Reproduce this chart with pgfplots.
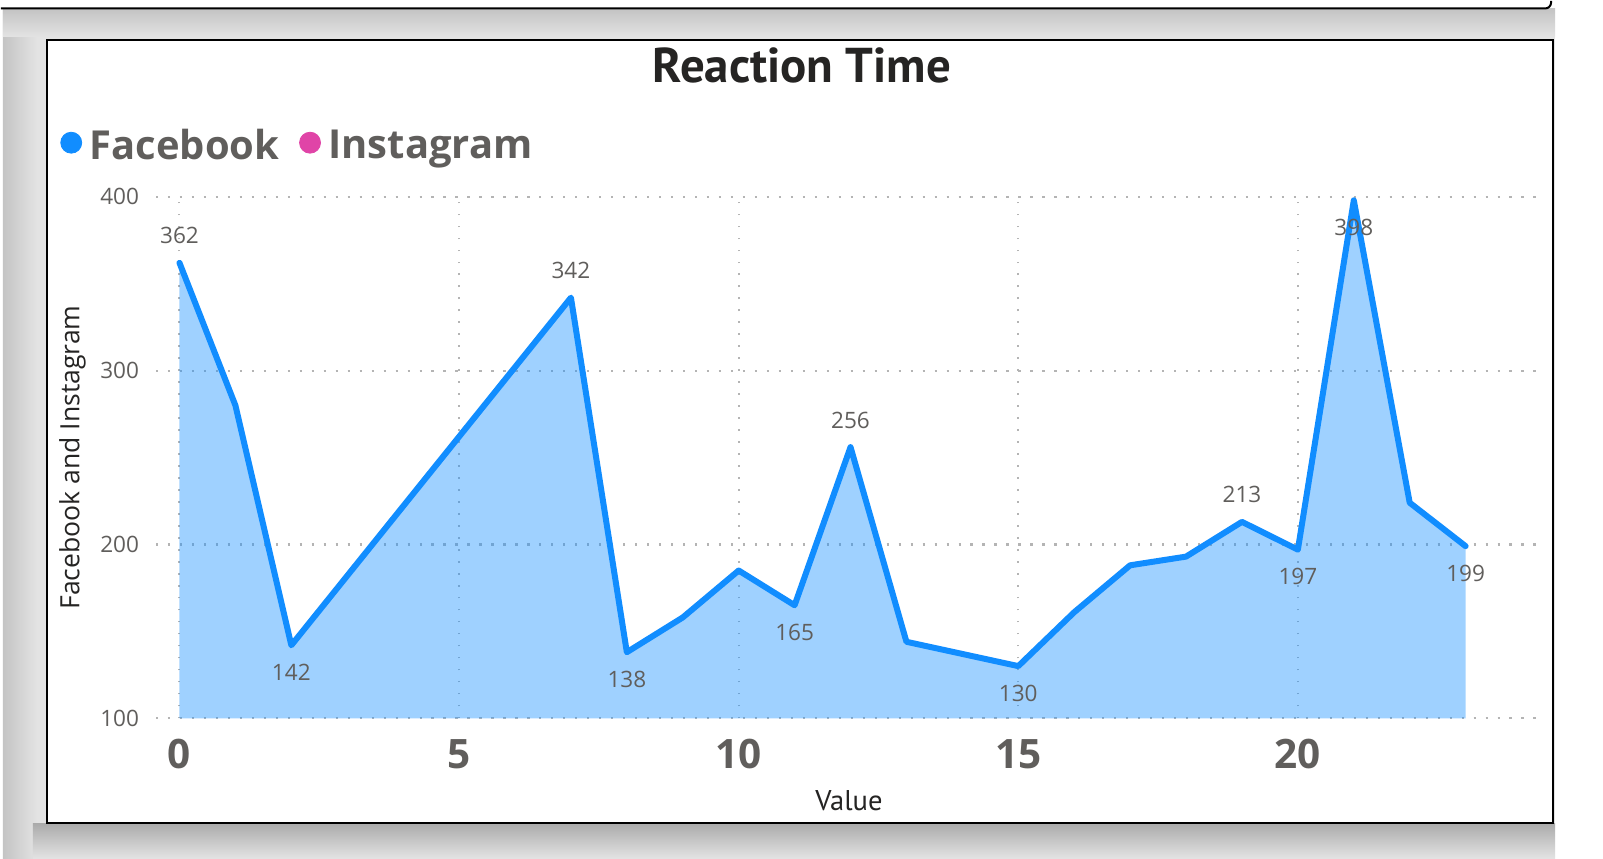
\documentclass[border=0pt]{standalone}
\usepackage{pgfplots}
\pgfplotsset{compat=1.18}
\usepackage{pgfplotstable}
\usepackage{fontspec}
\setmainfont{Open Sans}
\newfontfamily\ptsans{PT Sans}
\definecolor{fbblue}{HTML}{118DFF}
\definecolor{igpink}{HTML}{E044A7}
\definecolor{textgray}{HTML}{605E5C}
\definecolor{titlecol}{HTML}{252423}
\definecolor{gridgray}{HTML}{B4B4B4}
\definecolor{bggray}{HTML}{E3E3E3}
\definecolor{shadowdark}{HTML}{ABABAB}
\definecolor{shadowleft}{HTML}{C4C4C4}

\pgfplotstableread{
x y
0 362
1 280
2 142
3 182
4 222
5 262
6 302
7 342
8 138
9 158
10 185
11 165
12 256
13 144
14 137
15 130
16 161
17 188
18 193
19 213
20 197
21 398
22 224
23 199
}\rtdata

\pgfplotstableread{
x y
0 362
7 342
12 256
19 213
}\labelsabove

\pgfplotstableread{
x y
2 142
8 138
11 165
15 130
20 197
21 398
23 199
}\labelsbelow

\begin{document}
\begin{tikzpicture}
\begin{scope}[x=0.5pt,y=-0.5pt]
  \fill[white] (0,0) rectangle (1603,857);
  \fill[bggray] (0,6) rectangle (1555,857);
  \shade[left color=shadowleft, right color=bggray] (0,6) rectangle (34,857);
  \shade[top color=shadowleft, bottom color=bggray] (0,6) rectangle (1555,34);
  \shade[top color=shadowdark, bottom color=bggray] (30,822) rectangle (1555,857);
  \draw[line width=1pt, rounded corners=3pt] (-2,5.5) -- (1551,5.5) -- (1551,-2);
  \filldraw[fill=white, draw=black, line width=1pt] (44,37) rectangle (1553,822);
\end{scope}
\begin{axis}[
  at={(76.65pt,-358.3pt)}, anchor=south west,
  scale only axis, width=692.45pt, height=261.2pt,
  xmin=-0.42, xmax=24.3, ymin=100, ymax=400,
  xtick={0,5,10,15,20}, ytick={100,200,300,400},
  axis line style={draw=none}, major tick length=0pt,
  grid=major,
  x grid style={gridgray, line width=1pt, dash pattern=on 0.8pt off 5.2pt},
  y grid style={gridgray, line width=1.1pt, dash pattern=on 1.1pt off 4.9pt},
  /pgf/number format/assume math mode=true,
  xticklabel style={font=\bfseries\fontsize{20.3}{24}\selectfont, text=textgray, inner sep=0pt, anchor=center, yshift=-18pt},
  yticklabel style={font=\fontsize{11.3}{13}\selectfont, text=textgray, inner sep=0pt, anchor=east, xshift=-8.3pt},
  xlabel={Value}, ylabel={Facebook and Instagram},
  xlabel style={font=\ptsans\fontsize{14.3}{16}\selectfont, text=titlecol, at={(axis description cs:0.5013,-0.1587)}, anchor=center, inner sep=0pt},
  ylabel style={font=\fontsize{13.3}{15}\selectfont, text=titlecol, at={(axis description cs:-0.0605,0.5)}, anchor=center, inner sep=0pt},
  title={Reaction Time},
  title style={font=\ptsans\bfseries\fontsize{24.5}{28}\selectfont, text=titlecol, at={(axis description cs:0.4673,1.2123)}, anchor=base, inner sep=0pt, yshift=-4.4pt},
  legend columns=-1,
  legend cell align=left,
  legend style={at={(axis description cs:-0.0692,1.0977)}, anchor=west, draw=none, fill=none, inner sep=0pt, outer sep=0pt,
    font=\bfseries\fontsize{20}{24}\selectfont, text=textgray, nodes={inner sep=0pt, text=textgray},
    /tikz/every even column/.append style={column sep=10pt}},
  legend image code/.code={\fill[#1] (0pt,1.6pt) circle (5.25pt); \path (9pt,0pt);},
]
\addplot[draw=none, fill=fbblue, fill opacity=0.4, forget plot] table[x=x,y=y] {\rtdata} \closedcycle;
\addplot[fbblue, line width=3pt, line join=round, line cap=round, forget plot] table[x=x,y=y] {\rtdata};
\addplot[draw=none, forget plot, point meta=y, nodes near coords,
  every node near coord/.append style={font=\fontsize{11.3}{13}\selectfont, text=textgray, anchor=center, inner sep=0pt, yshift=13.5pt}]
  table[x=x,y=y] {\labelsabove};
\addplot[draw=none, forget plot, point meta=y, nodes near coords,
  every node near coord/.append style={font=\fontsize{11.3}{13}\selectfont, text=textgray, anchor=center, inner sep=0pt, yshift=-13.5pt}]
  table[x=x,y=y] {\labelsbelow};
\addlegendimage{fbblue}
\addlegendentry{Facebook}
\addlegendimage{igpink}
\addlegendentry{Instagram}
\end{axis}
\end{tikzpicture}
\end{document}
